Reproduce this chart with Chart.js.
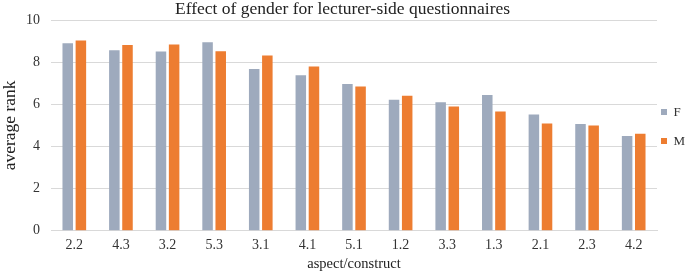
<!DOCTYPE html>
<html>
<head>
<meta charset="utf-8">
<script src="https://cdn.jsdelivr.net/npm/chart.js@4"></script>
<style>
  html, body { margin: 0; padding: 0; background: #fff; }
  #wrap { width: 685px; height: 272px; }
</style>
</head>
<body>
<div id="wrap"><canvas id="chart"></canvas></div>
<script>
// categories (aspect/construct) and average rank per gender
const categories = ['2.2', '4.3', '3.2', '5.3', '3.1', '4.1', '5.1', '1.2', '3.3', '1.3', '2.1', '2.3', '4.2'];
const femaleRank = [8.90, 8.57, 8.51, 8.95, 7.68, 7.38, 6.96, 6.22, 6.10, 6.44, 5.52, 5.07, 4.50];
const maleRank = [9.03, 8.81, 8.84, 8.52, 8.32, 7.79, 6.84, 6.41, 5.90, 5.66, 5.09, 4.99, 4.60];
const seriesNames = ['F', 'M'];
const yTicks = [0, 2, 4, 6, 8, 10];

const textColor = '#333';
const serif = 'Liberation Serif';

const ctx = document.getElementById('chart').getContext('2d');
const chart = new Chart(ctx, {
    type: 'bar',
    data: {
        labels: categories,
        datasets: [{
            label: seriesNames[0],
            data: femaleRank,
            backgroundColor: '#9eaabd',
            borderWidth: 0
        }, {
            label: seriesNames[1],
            data: maleRank,
            backgroundColor: '#ed7d31',
            borderWidth: 0
        }]
    },
    options: {
        responsive: true,
        maintainAspectRatio: false,
        animation: false,
        layout: { padding: { top: -1, left: 0, right: 0, bottom: -1 } },
        datasets: {
            bar: { categoryPercentage: 0.564, barPercentage: 0.8 }
        },
        plugins: {
            title: {
                display: true,
                text: 'Effect of gender for lecturer-side questionnaires',
                color: '#222',
                font: { family: serif, size: 17.5, weight: 'normal' },
                padding: { top: 0, bottom: 0 }
            },
            legend: {
                position: 'right',
                fullSize: false,
                maxWidth: 28,
                title: { display: true, text: ' ', padding: 0, font: { size: 12 } },
                labels: {
                    color: textColor,
                    font: { family: serif, size: 13, lineHeight: '25px' },
                    boxWidth: 6,
                    boxHeight: 6,
                    padding: 4,
                    // array text lets the line height set the gap between entries
                    generateLabels: (c) => Chart.defaults.plugins.legend.labels.generateLabels(c)
                        .map(item => ({ ...item, text: [item.text] }))
                }
            },
            tooltip: { enabled: false }
        },
        scales: {
            x: {
                grid: { display: false, drawTicks: false },
                border: { display: true, color: '#d9d9d9' },
                ticks: {
                    color: textColor,
                    font: { family: serif, size: 14 },
                    padding: 6,
                    maxRotation: 0
                },
                title: {
                    display: true,
                    text: 'aspect/construct',
                    color: '#222',
                    font: { family: serif, size: 14.5 },
                    padding: { top: -4, bottom: 0 }
                }
            },
            y: {
                min: 0,
                max: 10,
                afterBuildTicks: (axis) => { axis.ticks = yTicks.map(v => ({ value: v })); },
                grid: { color: '#d9d9d9', drawTicks: false },
                border: { display: false },
                ticks: {
                    color: textColor,
                    font: { family: serif, size: 14 },
                    padding: 11
                },
                title: {
                    display: true,
                    text: 'average rank',
                    color: '#222',
                    font: { family: serif, size: 17.5 },
                    padding: { top: 0, bottom: -6 }
                }
            }
        }
    }
});
</script>
</body>
</html>
